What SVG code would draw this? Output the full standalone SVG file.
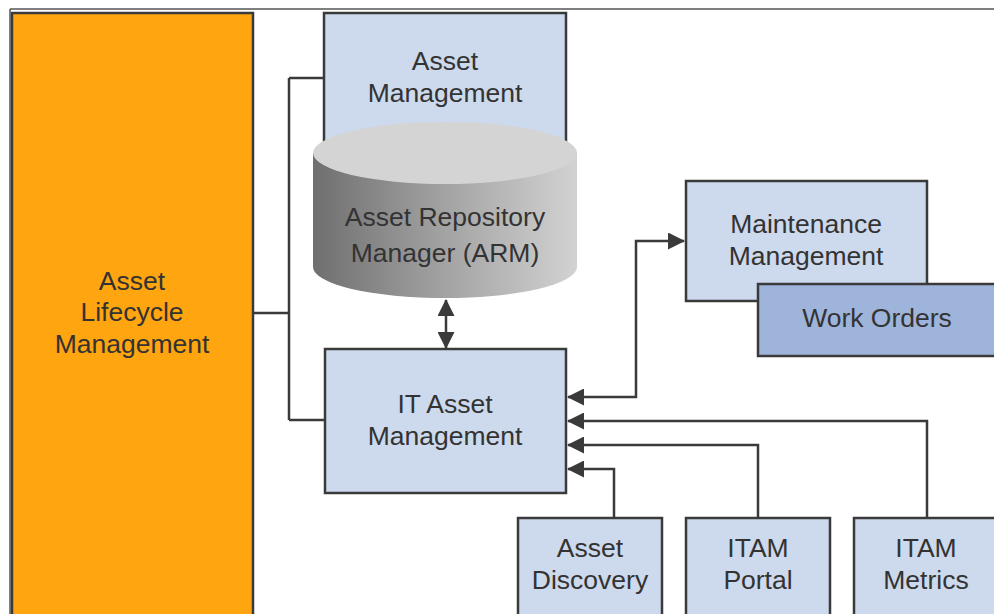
<svg xmlns="http://www.w3.org/2000/svg" width="994" height="614" viewBox="0 0 994 614">
<style>
.box{fill:#cdd9ec;stroke:#3a3a3a;stroke-width:2.5}
.t{font-family:"Liberation Sans",Arial,sans-serif;font-size:26.5px;fill:#333;text-anchor:middle}
.c{fill:none;stroke:#3a3a3a;stroke-width:2.5}
</style>
<defs>
<marker id="ah" markerUnits="userSpaceOnUse" markerWidth="17" markerHeight="17" refX="16" refY="8.5" orient="auto-start-reverse" viewBox="0 0 17 17">
<path d="M0,0 L17,8.5 L0,17 Z" fill="#3a3a3a"/>
</marker>
<linearGradient id="cyl" x1="0" y1="0" x2="1" y2="0">
<stop offset="0" stop-color="#6f6f6f"/>
<stop offset="0.5" stop-color="#a3a3a3"/>
<stop offset="1" stop-color="#d2d2d2"/>
</linearGradient>
</defs>
<rect width="994" height="614" fill="#fff"/>
<line x1="10" y1="9" x2="994" y2="9" stroke="#555" stroke-width="1.5"/>
<line x1="10" y1="9" x2="10" y2="614" stroke="#555" stroke-width="1.5"/>
<g id="connectors">
<path class="c" d="M253,313 H289 M289,78 V420 M289,78 H324 M289,420 H325"/>
<path class="c" d="M568,397 H636 V241 H684" marker-start="url(#ah)" marker-end="url(#ah)"/>
<path class="c" d="M927,518 V421 H568" marker-end="url(#ah)"/>
<path class="c" d="M758,518 V445 H568" marker-end="url(#ah)"/>
<path class="c" d="M614,518 V469 H568" marker-end="url(#ah)"/>
<path class="c" d="M446,300 V348" marker-start="url(#ah)" marker-end="url(#ah)"/>
</g>
<g id="alm">
<rect x="12" y="13" width="241" height="610" fill="#ffa510" stroke="#3a3a3a" stroke-width="2.5"/>
<text class="t" x="132" y="290">Asset</text>
<text class="t" x="132" y="321">Lifecycle</text>
<text class="t" x="132" y="353">Management</text>
</g>
<g id="asset-management">
<rect class="box" x="324" y="13" width="242" height="140"/>
<text class="t" x="445" y="70">Asset</text>
<text class="t" x="445" y="102">Management</text>
</g>
<g id="arm">
<path d="M313,153 V267 A132,31 0 0 0 577,267 V153 Z" fill="url(#cyl)"/>
<ellipse cx="445" cy="153" rx="132" ry="31" fill="#d4d4d4"/>
<text class="t" x="445" y="226">Asset Repository</text>
<text class="t" x="445" y="262">Manager (ARM)</text>
</g>
<g id="itam">
<rect class="box" x="325" y="349" width="241" height="144"/>
<text class="t" x="445" y="413">IT Asset</text>
<text class="t" x="445" y="445">Management</text>
</g>
<g id="maintenance">
<rect class="box" x="686" y="181" width="241" height="120"/>
<text class="t" x="806" y="233">Maintenance</text>
<text class="t" x="806" y="265">Management</text>
</g>
<g id="work-orders">
<rect x="758" y="284" width="250" height="72" fill="#9fb4da" stroke="#3a3a3a" stroke-width="2.5"/>
<text class="t" x="877" y="327">Work Orders</text>
</g>
<g id="asset-discovery">
<rect class="box" x="518" y="518" width="144" height="110"/>
<text class="t" x="590" y="557">Asset</text>
<text class="t" x="590" y="589">Discovery</text>
</g>
<g id="itam-portal">
<rect class="box" x="686" y="518" width="144" height="110"/>
<text class="t" x="758" y="557">ITAM</text>
<text class="t" x="758" y="589">Portal</text>
</g>
<g id="itam-metrics">
<rect class="box" x="854" y="518" width="150" height="110"/>
<text class="t" x="926" y="557">ITAM</text>
<text class="t" x="926" y="589">Metrics</text>
</g>
</svg>
